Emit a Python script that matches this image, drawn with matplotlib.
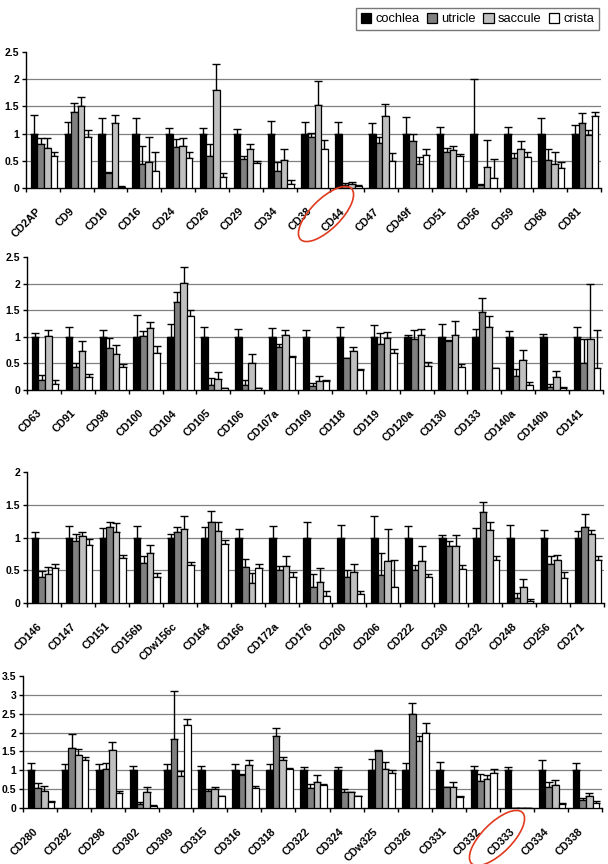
import numpy as np
import matplotlib
matplotlib.use("Agg")
import matplotlib.pyplot as plt
from matplotlib.patches import Ellipse

plt.rcParams['font.family'] = ['Liberation Sans', 'DejaVu Sans']

series = ["cochlea", "utricle", "saccule", "crista"]
colors = ["#000000", "#808080", "#c0c0c0", "#ffffff"]

# ---- panel 1 ----
labels1 = ["CD2AP", "CD9", "CD10", "CD16", "CD24", "CD26", "CD29", "CD34", "CD38",
           "CD44", "CD47", "CD49f", "CD51", "CD56", "CD59", "CD68", "CD81"]
coch1 = [1] * 17
coch_err1 = [.35, .21, .29, .29, .10, .10, .09, .23, .22, .21, .19, .31, .13, 1.0, .13, .28, .16]
utr1 = [.81, 1.40, .28, .45, .75, .59, .53, .31, .93, .06, .83, .86, .66, .05, .55, .51, 1.19]
utr_err1 = [.10, .17, .01, .33, .15, .22, .06, .16, .09, .03, .10, .14, .08, .02, .10, .21, .19]
sac1 = [.74, 1.51, 1.20, .47, .77, 1.81, .72, .51, 1.53, .08, 1.33, .45, .69, .39, .71, .44, .98]
sac_err1 = [.18, .16, .14, .46, .14, .47, .09, .21, .44, .03, .22, .12, .08, .50, .15, .23, .08]
cri1 = [.58, .94, .02, .31, .56, .21, .46, .08, .72, .04, .50, .61, .58, .18, .57, .37, 1.32]
cri_err1 = [.09, .12, .01, .36, .10, .07, .04, .06, .17, .02, .14, .11, .05, .35, .09, .10, .08]

# ---- panel 2 ----
labels2 = ["CD63", "CD91", "CD98", "CD100", "CD104", "CD105", "CD106", "CD107a", "CD109",
           "CD118", "CD119", "CD120a", "CD130", "CD133", "CD140a", "CD140b", "CD141"]
coch2 = [1] * 17
coch_err2 = [.07, .19, .12, .41, .24, .18, .14, .16, .13, .18, .22, .04, .24, .14, .11, .06, .18]
utr2 = [.19, .43, .79, 1.02, 1.65, .09, .10, .80, .08, .60, .87, .95, .93, 1.47, .26, .06, .50]
utr_err2 = [.10, .07, .18, .08, .19, .13, .08, .07, .06, .01, .20, .18, .01, .26, .13, .06, .45]
sac2 = [1.01, .73, .67, 1.17, 2.02, .21, .50, 1.04, .16, .73, .97, 1.03, 1.03, 1.19, .57, .24, .96]
sac_err2 = [.11, .20, .18, .10, .30, .12, .18, .08, .10, .07, .12, .11, .27, .20, .19, .12, 1.03]
cri2 = [.11, .25, .43, .69, 1.39, .03, .03, .62, .16, .38, .69, .46, .44, .41, .10, .04, .41]
cri_err2 = [.08, .06, .05, .14, .11, 0, 0, .01, .02, .01, .08, .07, .04, .01, .05, .02, .71]

# ---- panel 3 ----
labels3 = ["CD146", "CD147", "CD151", "CD156b", "CDw156c", "CD164", "CD166", "CD172a", "CD176",
           "CD200", "CD206", "CD222", "CD230", "CD232", "CD248", "CD256", "CD271"]
coch3 = [1] * 17
coch_err3 = [.08, .18, .15, .18, .06, .16, .13, .18, .23, .19, .33, .17, .04, .14, .19, .11, .10]
utr3 = [.39, .94, 1.16, .61, 1.09, 1.24, .55, .50, .24, .39, .42, .51, .87, 1.39, .07, .59, 1.16]
utr_err3 = [.10, .11, .08, .10, .07, .16, .12, .07, .20, .12, .35, .07, .07, .15, .08, .12, .20]
sac3 = [.45, 1.03, 1.09, .76, 1.13, 1.10, .30, .56, .32, .47, .64, .64, .87, 1.11, .24, .65, 1.05]
sac_err3 = [.10, .06, .13, .13, .20, .13, .16, .15, .21, .12, .49, .23, .17, .13, .12, .09, .06]
cri3 = [.53, .88, .68, .39, .58, .90, .53, .39, .11, .13, .24, .39, .52, .65, .03, .38, .65]
cri_err3 = [.06, .09, .06, .07, .04, .06, .07, .08, .08, .05, .42, .05, .06, .06, .03, .09, .07]

# ---- panel 4 ----
labels4 = ["CD280", "CD282", "CD298", "CD302", "CD309", "CD315", "CD316", "CD318", "CD322",
           "CD324", "CDw325", "CD326", "CD331", "CD332", "CD333", "CD334", "CD338"]
coch4 = [1] * 17
coch_err4 = [.18, .16, .16, .11, .16, .11, .16, .16, .10, .10, .30, .18, .21, .12, .10, .27, .20]
utr4 = [.53, 1.58, 1.04, .11, 1.82, .44, .87, 1.90, .53, .42, 1.52, 2.49, .56, .72, .01, .56, .20]
utr_err4 = [.14, .37, .16, .04, 1.29, .06, .04, .23, .10, .09, .02, .29, 0, .17, 0, .14, .06]
sac4 = [.45, 1.41, 1.53, .42, .86, .50, 1.13, 1.26, .69, .42, 1.03, 1.78, .56, .76, .01, .62, .31]
sac_err4 = [.13, .16, .21, .14, .11, .07, .13, .10, .19, 0, .20, .13, .14, .12, 0, .12, .08]
cri4 = [.17, 1.26, .41, .06, 2.19, .32, .54, 1.03, .62, .33, .92, 1.99, .28, .93, .01, .11, .14]
cri_err4 = [.02, .08, .04, .02, .18, .01, .04, .04, .02, 0, .10, .26, .03, .10, 0, .01, .05]

panels = [
    (labels1, [coch1, utr1, sac1, cri1], [coch_err1, utr_err1, sac_err1, cri_err1], 2.5),
    (labels2, [coch2, utr2, sac2, cri2], [coch_err2, utr_err2, sac_err2, cri_err2], 2.5),
    (labels3, [coch3, utr3, sac3, cri3], [coch_err3, utr_err3, sac_err3, cri_err3], 2.0),
    (labels4, [coch4, utr4, sac4, cri4], [coch_err4, utr_err4, sac_err4, cri_err4], 3.5),
]
# axes boxes in pixels: left, right, y of top tick, y of zero
boxes = [(26, 601, 52, 188), (27, 603, 257, 390), (27, 604, 472, 603), (23, 602, 676, 808)]

W, H = 608, 864
fig = plt.figure(figsize=(W / 100, H / 100), dpi=100)

bw = 0.195
handles = None
for (labels, vals, errs, top), (x0, x1, yt, y0) in zip(panels, boxes):
    ax = fig.add_axes([x0 / W, 1 - y0 / H, (x1 - x0) / W, (y0 - yt) / H])
    n = len(labels)
    x = np.arange(n)
    hs = []
    for k in range(4):
        xs = x + (k - 1.5) * bw + 0.03
        v = np.array(vals[k])
        e = np.array(errs[k])
        ax.errorbar(xs, v, yerr=[np.zeros(n), e], fmt='none', ecolor='black',
                    elinewidth=1.0, capsize=2.6, capthick=1.0, zorder=2)
        b = ax.bar(xs, v, width=bw, color=colors[k], edgecolor='black',
                   linewidth=0.9, zorder=3)
        hs.append(b)
    handles = hs
    for g in np.arange(0.5, top, 0.5):
        ax.axhline(g, color='#808080', linewidth=0.9, zorder=1)
    ax.set_xlim(-0.5, n - 0.5)
    ax.set_ylim(0, top)
    ax.set_yticks(np.arange(0, top + 0.01, 0.5))
    ax.set_yticklabels([f"{t:g}" for t in np.arange(0, top + 0.01, 0.5)],
                       fontsize=7.5, fontweight='bold')
    # labels sit a little left of the category centre, Excel style
    ax.set_xticks(x - 0.22)
    ax.set_xticklabels(labels, rotation=45, ha='right', rotation_mode='anchor',
                       fontsize=7.8, fontweight='bold')
    ax.set_xticks(np.arange(-0.5, n, 1.0), minor=True)
    ax.tick_params(axis='x', which='major', length=0, pad=13)
    ax.tick_params(axis='x', which='minor', length=3, width=1, direction='out')
    ax.tick_params(axis='y', length=3, width=1, pad=2)
    for s in ['top', 'right']:
        ax.spines[s].set_visible(False)
    ax.spines['left'].set_linewidth(1)
    ax.spines['bottom'].set_linewidth(1)

fig.legend(handles, series, loc='upper right', bbox_to_anchor=(605 / W, 1 - 2 / H),
           ncol=4, fontsize=9.3, frameon=True, fancybox=False, edgecolor='#555555',
           handlelength=0.8, handleheight=0.8, handletextpad=0.3, columnspacing=0.6,
           borderpad=0.35)

# red ellipses around two labels
ov = fig.add_axes([0, 0, 1, 1])
ov.set_xlim(0, W)
ov.set_ylim(H, 0)
ov.axis('off')
ov.patch.set_alpha(0)
ov.add_patch(Ellipse((326, 214), 72, 30, angle=-45, fill=False, edgecolor='#e03a1e', linewidth=1.2))
ov.add_patch(Ellipse((497, 838), 72, 30, angle=-45, fill=False, edgecolor='#e03a1e', linewidth=1.2))

fig.savefig("out.png", dpi=100)
